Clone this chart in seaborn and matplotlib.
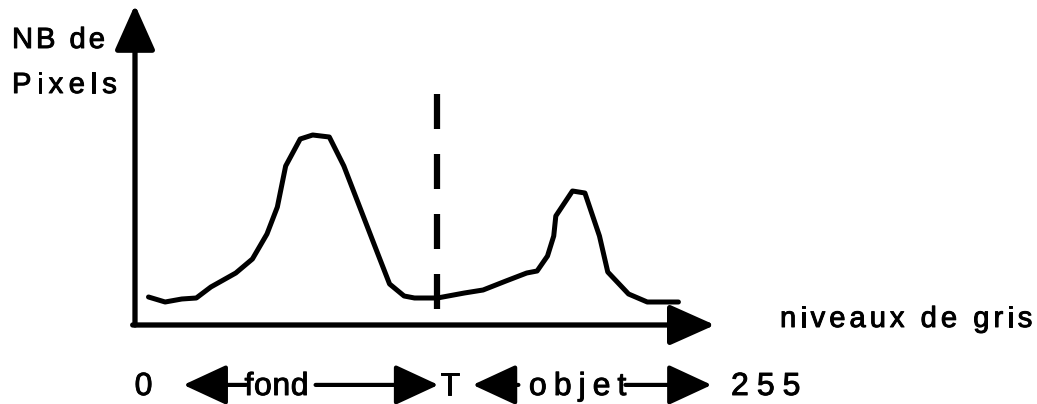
import numpy as np
import pandas as pd
import seaborn as sns
import matplotlib.pyplot as plt
import matplotlib.patheffects as pe

# histogram sketch : grey level -> number of pixels
grey_levels = [0, 8, 16, 23, 30, 42, 50, 57, 62, 66, 73, 79, 87, 94, 102, 110, 116, 123, 128,
               139, 152, 161, 172, 182, 187, 192, 195, 196, 204, 210, 217, 221, 231, 240, 255]
nb_pixels = [28, 23, 26, 27, 38, 52, 66, 91, 118, 159, 186, 190, 188, 159, 116, 73, 41, 29, 27,
             27, 32, 35, 44, 52, 54, 69, 89, 109, 134, 132, 89, 53, 31, 23, 23]
threshold = 139
threshold_span = [231, 16]

y_label = ["NB de", "Pixels"]
x_label = "niveaux de gris"
scale_labels = ["0", "fond", "T", "objet", "255"]

W, H = 1037, 404


def fx(px):
    return px / W


def fy(py):
    return 1 - py / H


sns.set_theme(style="white")
plt.rcParams['font.family'] = ['Liberation Sans', 'DejaVu Sans']
plt.rcParams['text.color'] = 'black'

fig = plt.figure(figsize=(W / 100, H / 100), dpi=100)
renderer = fig.canvas.get_renderer()
thick = [pe.withStroke(linewidth=0.7, foreground="black")]


def text_width(s, size):
    t = fig.text(0, 0, s, fontsize=size)
    w = t.get_window_extent(renderer).width
    t.remove()
    return w


def tracked_text(x_px, y_px, s, size, track, ha="left"):
    # old mac fonts were set with wide letter spacing, place glyphs one by one
    ref = text_width("x", size)
    offsets = [0] + [text_width(s[:i] + "x", size) - ref for i in range(1, len(s))]
    total = text_width(s, size) + track * (len(s) - 1)
    start = x_px - total / 2 if ha == "center" else x_px
    for i, ch in enumerate(s):
        if ch == " ":
            continue
        fig.text(fx(start + offsets[i] + track * i), fy(y_px), ch, fontsize=size,
                 ha="left", va="baseline", path_effects=thick)


ax = fig.add_axes([fx(135), fy(325), (715 - 135) / W, (325 - 8) / H])
ax.set_xlim(-6.5, 272.6)
ax.set_ylim(0, 317)
for s in ax.spines.values():
    s.set_visible(False)
ax.set_xticks([])
ax.set_yticks([])
ax.patch.set_alpha(0)

df = pd.DataFrame({"niveau": grey_levels, "nb": nb_pixels})
sns.lineplot(data=df, x="niveau", y="nb", ax=ax, color="black", lw=3.6,
             estimator=None, sort=False, solid_joinstyle="round", solid_capstyle="round")
ax.set_xlabel("")
ax.set_ylabel("")

# threshold
ax.plot([threshold, threshold], threshold_span, color="black", lw=4.5,
        linestyle=(0, (5.6, 4.0)), solid_capstyle="butt")

# axes with arrows
axis_arrow = dict(arrowstyle="-|>,head_length=28,head_width=12.5", lw=3.8, color="black",
                  shrinkA=0, shrinkB=0, mutation_scale=1)
ax.annotate("", xy=(0, 1.01), xytext=(0, 0), xycoords="axes fraction", arrowprops=axis_arrow)
ax.annotate("", xy=(1, 0), xytext=(-0.004, 0), xycoords="axes fraction", arrowprops=axis_arrow)

# labels
tracked_text(12, 48, y_label[0], 21, 3)
tracked_text(12, 93, y_label[1], 21, 5.4)
tracked_text(780, 327, x_label, 21, 4)

# bottom scale : 0 <- fond -> T <- objet -> 255
trans = ax.get_xaxis_transform()
row_y = -0.189
small_arrow = dict(arrowstyle="-|>,head_length=27,head_width=12.5", lw=3.0, color="black",
                   shrinkA=0, shrinkB=0, mutation_scale=1)


def gx(g):
    return ax.transData.transform((g, 0))[0]


base = 395
tracked_text(gx(-2.4), base, scale_labels[0], 23, 0, ha="center")
ax.annotate("", xy=(16.8, row_y), xytext=(47, row_y), xycoords=trans, arrowprops=small_arrow)
tracked_text(gx(61.6), base, scale_labels[1], 23, 0.5, ha="center")
ax.annotate("", xy=(139.5, row_y), xytext=(80.4, row_y), xycoords=trans, arrowprops=small_arrow)
tracked_text(gx(145), base, scale_labels[2], 23, 0, ha="center")
ax.annotate("", xy=(156, row_y), xytext=(178, row_y), xycoords=trans, arrowprops=small_arrow)
tracked_text(gx(206.5), base, scale_labels[3], 23, 7, ha="center")
ax.annotate("", xy=(271, row_y), xytext=(229.5, row_y), xycoords=trans, arrowprops=small_arrow)
tracked_text(gx(297), base, scale_labels[4], 23, 8, ha="center")

fig.savefig("out.png", dpi=100, facecolor="white")
